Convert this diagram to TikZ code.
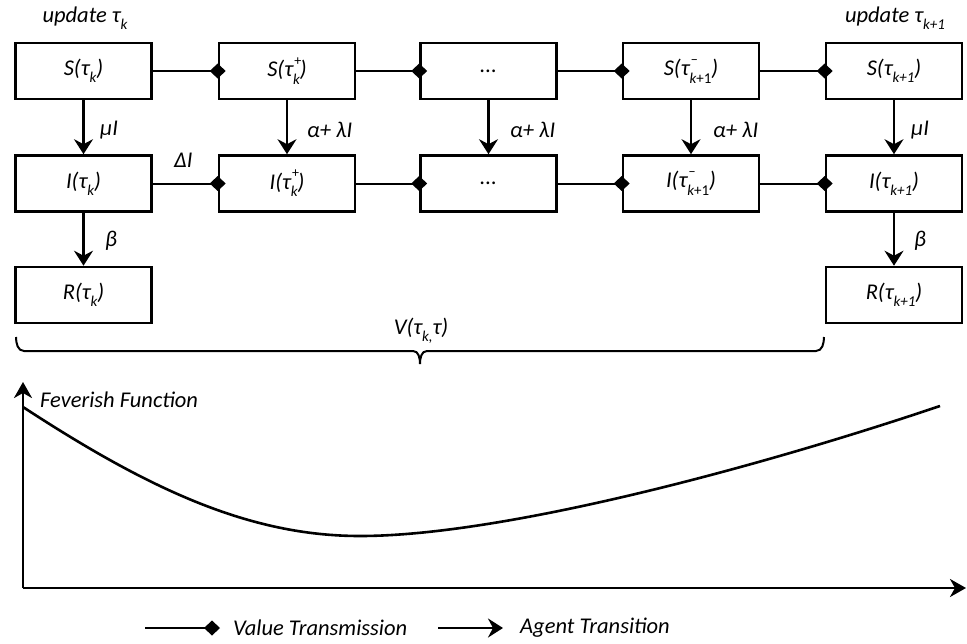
\documentclass[tikz,border=0pt]{standalone}
\usepackage{fontspec}
\setmainfont{Carlito}
\usetikzlibrary{arrows.meta}
% lowered index, e.g. tau_k
\newcommand\lowidx[1]{\raisebox{-0.3em}{\fontsize{15}{15}\selectfont #1}}
% stacked upper and lower index, e.g. tau^+_k
\newcommand\stackidx[2]{\rlap{\raisebox{0.5em}{\fontsize{14}{14}\selectfont\upshape\hspace{0.1em}#1}}\raisebox{-0.35em}{\fontsize{15}{15}\selectfont #2}}
\begin{document}
\begin{tikzpicture}[x=1pt,y=-1pt,
  font=\itshape\fontsize{22.5}{26}\selectfont,
  box/.style={draw, line width=2.6pt, minimum width=136pt, minimum height=56pt, inner sep=0pt},
  valline/.style={line width=2pt, -{Diamond[length=16pt,width=15pt]}, shorten >=-8pt},
  legval/.style={line width=2pt, -{Diamond[length=16pt,width=15pt]}},
  agent/.style={line width=2.3pt, -{Stealth[length=15pt,width=19pt,inset=5pt]}},
  axisline/.style={line width=2.6pt, -{Stealth[length=16pt,width=18pt,inset=5pt]}},
  lbl/.style={anchor=west, inner sep=0pt}]
\useasboundingbox (0,0) rectangle (967,643);

% state boxes: S row, I row, R row
\node[box] (S1) at (83.5,71) {S(τ\lowidx{k})};
\node[box] (S2) at (287,71) {S(τ\stackidx{+}{k})};
\node[box] (S3) at (488.5,71) {...};
\node[box] (S4) at (691,71) {S(τ\stackidx{−}{k\upshape +1})};
\node[box] (S5) at (894,71) {S(τ\lowidx{k+1})};

\node[box] (I1) at (83.5,183.5) {I(τ\lowidx{k})};
\node[box] (I2) at (287,183.5) {I(τ\stackidx{+}{k})};
\node[box] (I3) at (488.5,183.5) {...};
\node[box] (I4) at (691,183.5) {I(τ\stackidx{−}{k\upshape +1})};
\node[box] (I5) at (894,183.5) {I(τ\lowidx{k+1})};

\node[box] (R1) at (83.5,295) {R(τ\lowidx{k})};
\node[box] (R5) at (894,295) {R(τ\lowidx{k+1})};

% update labels
\node (u1) at (85,18) {update τ\lowidx{k}};
\node (u5) at (895,18) {update τ\lowidx{k+1}};

% value transmission links
\foreach \a/\b in {S1/S2,S2/S3,S3/S4,S4/S5,I1/I2,I2/I3,I3/I4,I4/I5}
  \draw[valline] (\a.east) -- (\b.west);

% agent transitions
\foreach \c in {1,...,5}
  \draw[agent] (S\c.south) -- (I\c.north);
\draw[agent] (I1.south) -- (R1.north);
\draw[agent] (I5.south) -- (R5.north);

% rate labels
\node[lbl] (m1) at (100,130) {μI};
\node[lbl] (m2) at (307,130) {α+ λI};
\node[lbl] (m3) at (510,130) {α+ λI};
\node[lbl] (m4) at (713,130) {α+ λI};
\node[lbl] (m5) at (911,130) {μI};
\node[lbl] (d1) at (174,160) {ΔI};
\node[lbl] (b1) at (105,241) {β};
\node[lbl] (b5) at (914,241) {β};

% brace spanning the time interval
\draw[line width=2pt] (16,337) to[out=-90,in=180] (24,351) -- (413,351)
  to[out=0,in=90] (420,364) to[out=90,in=180] (427,351) -- (816,351)
  to[out=0,in=-90] (824,337);
\node (V) at (421,331) {V(τ\lowidx{k,}τ)};

% feverish function plot
\coordinate (O) at (23,588);
\coordinate (ytop) at (23,382);
\coordinate (xend) at (966,588);
\draw[axisline] (O) -- (ytop);
\draw[axisline] (O) -- (xend);
\node[lbl] (ff) at (40,400) {Feverish Function};
\draw[line width=2.6pt] (23,407) .. controls (150,490) and (250,536) .. (360,536)
  .. controls (500,536) and (750,470) .. (940,406);

% legend
\coordinate (la) at (145,628);
\coordinate (lb) at (220,628);
\coordinate (lc) at (438,628);
\coordinate (ld) at (503,628);
\draw[legval] (la) -- (lb);
\node[lbl] (lt1) at (233,628) {Value Transmission};
\draw[agent] (lc) -- (ld);
\node[lbl] (lt2) at (520,628) {Agent Transition};
\end{tikzpicture}
\end{document}
